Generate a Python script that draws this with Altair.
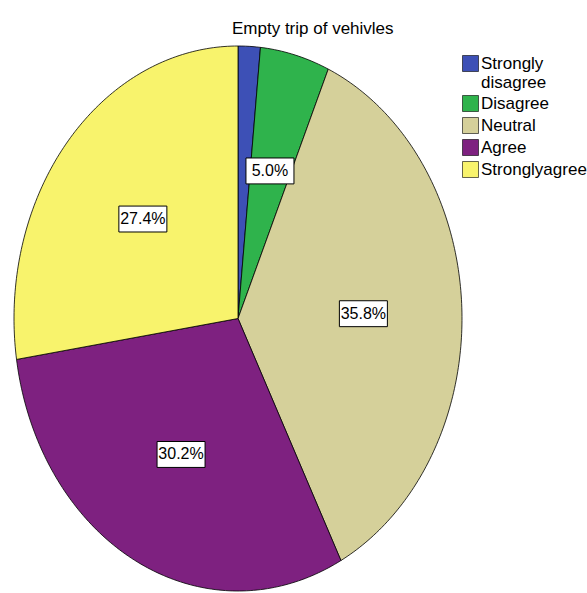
import math
import altair as alt
import pandas as pd

# ---- data ----
categories = ["Strongly disagree", "Disagree", "Neutral", "Agree", "Stronglyagree"]
percents = [1.6, 5.0, 35.8, 30.2, 27.4]
colors = ["#3D50B6", "#2FB34C", "#D5D09A", "#7E2180", "#F8F36C"]
chart_title = "Empty trip of vehivles"

# ---- build slice outlines (angles derived from the percentages) ----
rows = []
cum = 0.0
for cat, p in zip(categories, percents):
    start, end = cum, cum + p
    cum = end
    rows.append({"cat": cat, "k": 0, "x": 0.0, "y": 0.0})
    n = max(3, int(round(p * 4)))
    for k in range(n + 1):
        a = 2 * math.pi * (start + (end - start) * k / n) / 100.0
        rows.append({"cat": cat, "k": k + 1, "x": math.sin(a), "y": math.cos(a)})
pie_df = pd.DataFrame(rows)

lab_rows = []
cum = 0.0
for cat, p in zip(categories, percents):
    mid = cum + p / 2
    cum += p
    if p < 3:
        continue
    a = 2 * math.pi * mid / 100.0
    lab_rows.append({"cat": cat, "label": f"{p:.1f}%",
                     "x": 0.56 * math.sin(a), "y": 0.56 * math.cos(a)})
lab_df = pd.DataFrame(lab_rows)

FONT = "Liberation Sans"
xs = alt.Scale(domain=[-1, 1], range=[14, 462], nice=False, zero=False)
ys = alt.Scale(domain=[-1, 1], range=[591, 46], nice=False, zero=False)

pie = alt.Chart(pie_df).mark_line(
    filled=True, interpolate="linear-closed", stroke="black", strokeWidth=0.8, opacity=1
).encode(
    x=alt.X("x:Q", scale=xs, axis=None),
    y=alt.Y("y:Q", scale=ys, axis=None),
    order=alt.Order("k:Q"),
    color=alt.Color(
        "cat:N",
        scale=alt.Scale(domain=categories, range=colors),
        sort=categories,
        legend=alt.Legend(
            title=None, orient="none", legendX=462, legendY=55,
            symbolType="square", symbolSize=256, symbolStrokeColor="black",
            symbolStrokeWidth=0.6, labelFont=FONT, labelFontSize=17,
            labelColor="black", labelOffset=2, rowPadding=3,
            labelLimit=200,
            labelExpr="datum.label == 'Strongly disagree' ? ['Strongly', 'disagree'] : datum.label",
        ),
    ),
)

boxes = alt.Chart(lab_df).mark_point(
    shape="M-1,-0.54L1,-0.54L1,0.54L-1,0.54Z", size=2304, filled=True,
    fill="white", stroke="black", strokeWidth=1, opacity=1
).encode(
    x=alt.X("x:Q", scale=xs, axis=None),
    y=alt.Y("y:Q", scale=ys, axis=None),
)

texts = alt.Chart(lab_df).mark_text(
    font=FONT, fontSize=16, color="black", align="center", baseline="middle"
).encode(
    x=alt.X("x:Q", scale=xs, axis=None),
    y=alt.Y("y:Q", scale=ys, axis=None),
    text="label:N",
)

chart = alt.layer(pie, boxes, texts).properties(
    width=587, height=593,
    autosize=alt.AutoSizeParams(type="none"),
    padding=0,
    background="white",
    title=alt.TitleParams(
        text=chart_title, font=FONT, fontSize=17, fontWeight="normal",
        color="black", anchor="start", frame="group", offset=0,
        dx=232, dy=51, baseline="alphabetic",
    ),
).configure_view(stroke=None)

chart.save("out.html", embed_options={"renderer": "svg", "actions": False})
